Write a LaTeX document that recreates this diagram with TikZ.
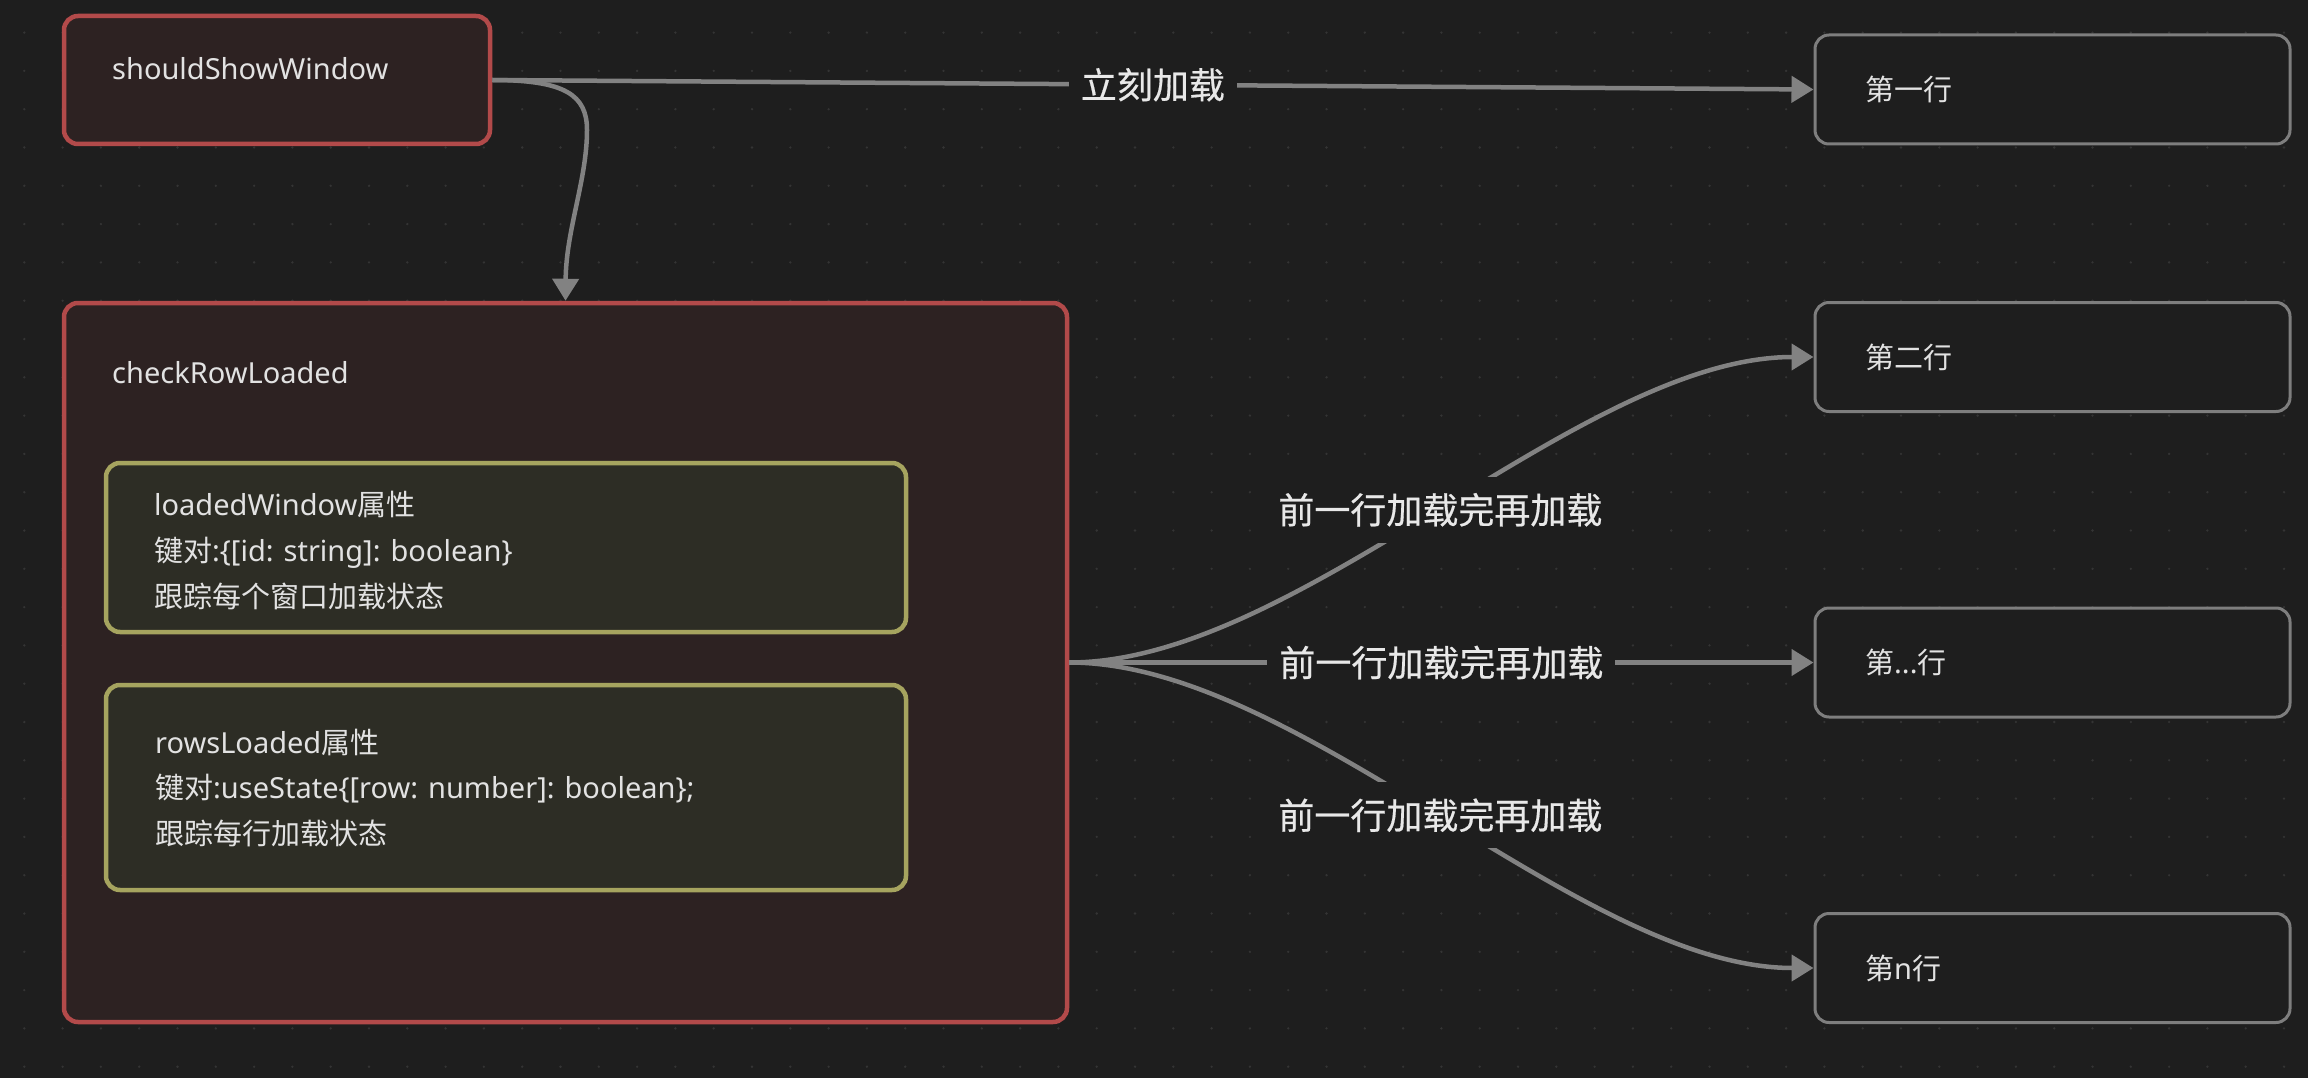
\documentclass[tikz,border=0pt]{standalone}
\usepackage{fontspec}
\setmainfont{Noto Sans}
\newfontfamily\cjk{Noto Sans CJK SC}
\newfontfamily\cjklabel{Noto Sans CJK SC}[FakeBold=0.5]
\usetikzlibrary{arrows.meta}

\definecolor{canvas}{HTML}{1E1E1E}
\definecolor{griddot}{HTML}{343434}
\definecolor{redline}{HTML}{B24A4A}
\definecolor{redfill}{HTML}{2D2222}
\definecolor{olive}{HTML}{A6A45F}
\definecolor{olivefill}{HTML}{2D2D25}
\definecolor{rowline}{HTML}{7E7E7E}
\definecolor{wire}{HTML}{828282}
\definecolor{ink}{HTML}{E2E2E2}
\definecolor{labelink}{HTML}{E8E8E8}

\tikzset{
  fnbox/.style={draw=redline, fill=redfill, line width=4.5pt, rounded corners=14pt,
    rectangle, inner sep=0pt},
  attrbox/.style={draw=olive, fill=olivefill, line width=4.5pt, rounded corners=14pt,
    rectangle, inner sep=0pt},
  rowbox/.style={draw=rowline, fill=canvas, line width=3pt, rounded corners=14pt,
    rectangle, inner sep=0pt, minimum width=475pt, minimum height=109pt},
  txt/.style={text=ink, inner sep=0pt, font=\fontsize{29}{34}\selectfont},
  edgelabel/.style={fill=canvas, text=labelink, inner xsep=12pt, inner ysep=16pt,
    font=\cjklabel\fontsize{36}{40}\selectfont},
  wirearrow/.style={draw=wire, line width=4.5pt, -{Triangle[length=22pt,width=26pt]}},
}

\begin{document}
\begin{tikzpicture}[x=1pt,y=-1pt]
  % canvas and dot grid
  \fill[canvas] (0,0) rectangle (2308,1078);
  \useasboundingbox (0,0) rectangle (2308,1078);
  \foreach \i in {0,...,59}{
    \foreach \j in {0,...,27}{
      \fill[griddot] (24.3+38.3*\i, 32.6+38.3*\j) circle (1.3pt);
    }
  }

  % function boxes
  \node[fnbox, minimum width=426pt, minimum height=128pt] (ssw) at (277,80) {};
  \node[txt, anchor=base west] (ssw-t) at (112,80) {shouldShowWindow};

  \node[fnbox, minimum width=1003pt, minimum height=719pt] (cr) at (565.5,662.5) {};
  \node[txt, anchor=base west] (cr-t) at (112,383) {checkRowLoaded};

  % state boxes inside checkRowLoaded
  \node[attrbox, minimum width=800pt, minimum height=169pt] (lw) at (506,547.5) {};
  \node[txt, anchor=base west] (lw-1) at (154,515) {loadedWindow{\cjk 属性}};
  \node[txt, anchor=base west] (lw-2) at (154,561) {{\cjk 键对}:\{[id: string]: boolean\}};
  \node[txt, anchor=base west] (lw-3) at (154,607) {{\cjk 跟踪每个窗口加载状态}};

  \node[attrbox, minimum width=800pt, minimum height=205pt] (rl) at (506,787.5) {};
  \node[txt, anchor=base west] (rl-1) at (155,753) {rowsLoaded{\cjk 属性}};
  \node[txt, anchor=base west] (rl-2) at (155,798) {{\cjk 键对}:useState\{[row: number]: boolean\};};
  \node[txt, anchor=base west] (rl-3) at (155,844) {{\cjk 跟踪每行加载状态}};

  % row boxes
  \node[rowbox] (r1) at (2052.5,89.5) {};
  \node[rowbox] (r2) at (2052.5,357) {};
  \node[rowbox] (r3) at (2052.5,662.5) {};
  \node[rowbox] (r4) at (2052.5,968) {};
  \node[txt, anchor=west] (r1-t) at (1865,89.5) {{\cjk 第一行}};
  \node[txt, anchor=west] (r2-t) at (1865,357) {{\cjk 第二行}};
  \node[txt, anchor=west] (r3-t) at (1865,662.5) {{\cjk 第}...{\cjk 行}};
  \node[txt, anchor=west] (r4-t) at (1865,968) {{\cjk 第}n{\cjk 行}};

  % connectors
  \draw[wirearrow] (ssw.east) -- node[edgelabel] (l-now) {立刻加载} (r1.west);
  \draw[wirearrow] (ssw.east) .. controls (565,80) and (587,95) .. (587,130)
    .. controls (587,180) and (566,230) .. (cr.north);

  \draw[wirearrow] (cr.east) .. controls (1300,662.5) and (1580,357) ..
    node[edgelabel] (l-up) {前一行加载完再加载} (r2.west);
  \draw[wirearrow] (cr.east) --
    node[edgelabel] (l-mid) {前一行加载完再加载} (r3.west);
  \draw[wirearrow] (cr.east) .. controls (1300,662.5) and (1580,968) ..
    node[edgelabel] (l-down) {前一行加载完再加载} (r4.west);
\end{tikzpicture}
\end{document}
